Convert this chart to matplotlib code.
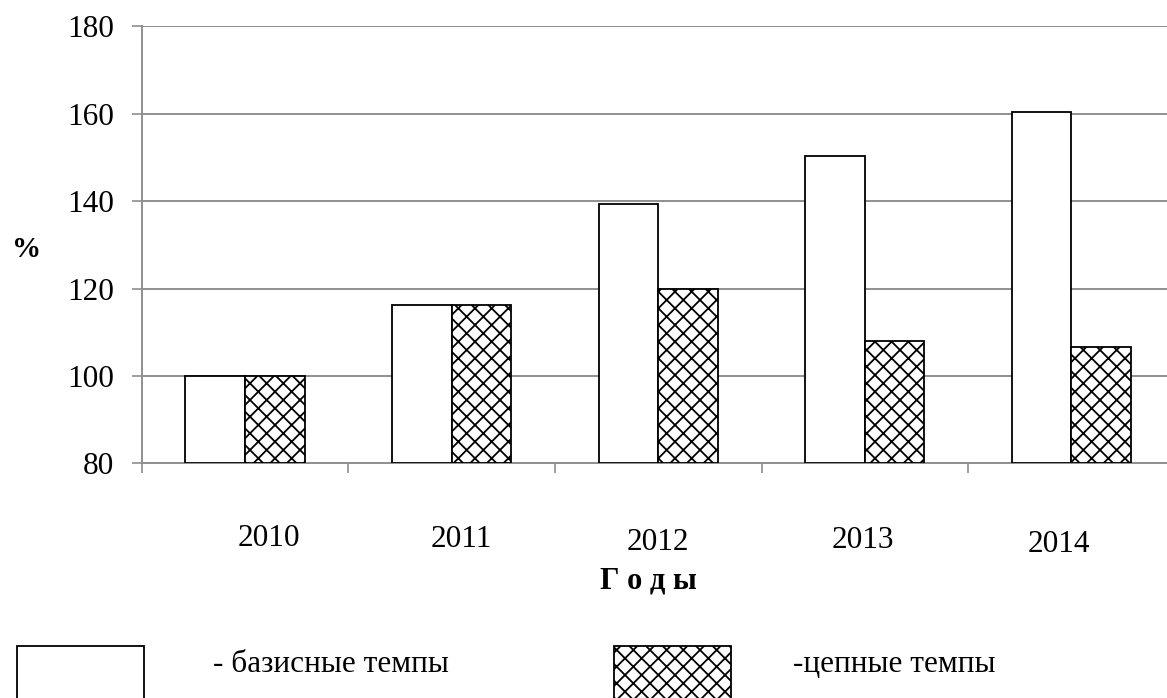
import matplotlib.pyplot as plt
import matplotlib.patches as mpatches
import numpy as np

years = ['2010', '2011', '2012', '2013', '2014']
basic_rates = [100.0, 116.2, 139.3, 150.4, 160.3]
chain_rates = [100.0, 116.2, 119.9, 107.9, 106.6]
y_ticks = [80, 100, 120, 140, 160, 180]

plt.rcParams['font.family'] = ['Liberation Serif', 'DejaVu Serif']
plt.rcParams['hatch.linewidth'] = 1.3
plt.rcParams['hatch.color'] = '#3a3a3a'

W, H = 1167, 698
FS = 22.5
fig = plt.figure(figsize=(W / 100, H / 100), dpi=100)
# axes runs slightly past the right edge, like the cropped original
ax = fig.add_axes([141.7 / W, 1 - 463.3 / H, 1033 / W, (463.3 - 26.3) / H])

x = np.arange(len(years))
bw = 0.288
ax.bar(x - bw / 2, [v - 80 for v in basic_rates], bw, bottom=80,
       color='white', edgecolor='black', linewidth=1.3, zorder=3)
ax.bar(x + bw / 2, [v - 80 for v in chain_rates], bw, bottom=80,
       color='white', edgecolor='black', linewidth=1.3, hatch='xx', zorder=3)

grid_col = '#8f8f8f'
ax.set_xlim(-0.5, 4.5)
ax.set_ylim(80, 180)
ax.set_yticks(y_ticks)
ax.set_yticklabels([str(t) for t in y_ticks], fontsize=FS)
ax.yaxis.grid(True, color=grid_col, linewidth=1.4, zorder=0)
ax.set_axisbelow(True)
ax.tick_params(axis='y', direction='out', length=7.2, width=1.2, color=grid_col, pad=13)

# category boundaries as x ticks, labels drawn separately
ax.set_xticks(np.arange(-0.5, 4.6, 1.0))
ax.set_xticklabels([])
ax.tick_params(axis='x', direction='out', length=7, width=1.2, color=grid_col)

for s in ['top', 'right']:
    ax.spines[s].set_visible(False)
for s in ['left', 'bottom']:
    ax.spines[s].set_color(grid_col)
    ax.spines[s].set_linewidth(1.4)

# year labels sit loosely below the axis (pixel positions)
x_px = [268.7, 461.7, 658, 863, 1059]
y_px = [538, 539.5, 542, 541, 545]
for i, yr in enumerate(years):
    fig.text(x_px[i] / W, 1 - y_px[i] / H, yr, fontsize=FS, ha='center', va='center')

fig.text(648 / W, 1 - 581 / H, 'Г о д ы', fontsize=22, fontweight='bold',
         ha='center', va='center')
fig.text(12 / W, 1 - 250 / H, '%', fontsize=21, fontweight='bold',
         ha='left', va='center')

# legend drawn by hand at the bottom
fig.add_artist(mpatches.Rectangle((17 / W, -0.01), 127 / W, 52 / H + 0.01,
                                  transform=fig.transFigure, facecolor='white',
                                  edgecolor='black', linewidth=1.3))
fig.add_artist(mpatches.Rectangle((614 / W, -0.01), 117 / W, 52 / H + 0.01,
                                  transform=fig.transFigure, facecolor='white',
                                  edgecolor='black', linewidth=1.3, hatch='xx'))
fig.text(213 / W, 1 - 665 / H, '- базисные темпы', fontsize=FS, ha='left', va='center')
fig.text(793 / W, 1 - 665 / H, '-цепные темпы', fontsize=FS, ha='left', va='center')

fig.savefig('out.png', dpi=100)
